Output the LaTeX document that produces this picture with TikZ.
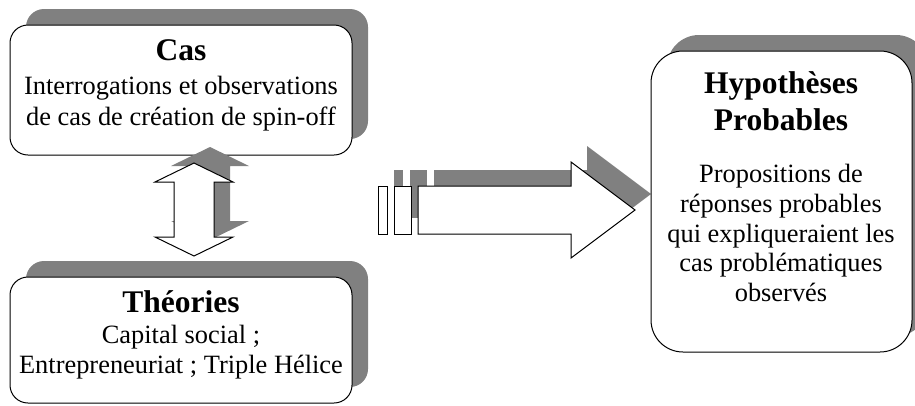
\documentclass[tikz,border=0pt]{standalone}
\usepackage{fontspec}
\setmainfont{Liberation Serif}
\usetikzlibrary{shadows}
\definecolor{shadowgray}{RGB}{128,128,128}
\begin{document}
\begin{tikzpicture}[x=1pt,y=-1pt,
  box/.style={draw=black, line width=1pt, fill=white, rounded corners=#1,
    inner sep=0pt, outer sep=0pt,
    drop shadow={shadow xshift=16pt, shadow yshift=16pt, fill=shadowgray, opacity=1}},
  box/.default=18pt,
  head/.style={font=\fontsize{31.5}{36}\selectfont\bfseries, anchor=base, inner sep=0pt},
  body/.style={font=\fontsize{26.4}{30}\selectfont, anchor=base, inner sep=0pt},
  shadowfill/.style={fill=shadowgray, draw=none},
  arrowfill/.style={fill=white, draw=black, line width=1pt, line join=miter},
  dblarrow/.pic={
    \path[pic actions] (0,-46.5) -- (39,-27.5) -- (20,-27.5) -- (20,27.5) -- (39,27.5)
      -- (0,46.5) -- (-39,27.5) -- (-20,27.5) -- (-20,-27.5) -- (-39,-27.5) -- cycle;
  },
  bigarrow/.pic={
    \path[pic actions] (-40,-24) rectangle (-31,24);
    \path[pic actions] (-24,-24) rectangle (-7,24);
    \path[pic actions] (0,-24) -- (153,-24) -- (153,-48) -- (217,0) -- (153,48)
      -- (153,24) -- (0,24) -- cycle;
  }
]
\useasboundingbox (0,0) rectangle (915,405);

% Cas box
\node[box, minimum width=342pt, minimum height=130pt] (cas) at (181,90) {};
\node[head] (casT) at (181,60) {Cas};
\node[body] (casL1) at (181,94) {Interrogations et observations};
\node[body] (casL2) at (181,125) {de cas de création de spin-off};

% Theories box
\node[box, minimum width=342pt, minimum height=126pt] (theo) at (181,340) {};
\node[head] (theoT) at (181,312) {Théories};
\node[body] (theoL1) at (181,343) {Capital social ;};
\node[body] (theoL2) at (181,373) {Entrepreneuriat ; Triple Hélice};

% double arrow between Cas and Theories
\pic[shadowfill] (dblS) at (210,193.5) {dblarrow};
\pic[arrowfill] (dbl) at (194,209.5) {dblarrow};

% big arrow towards hypotheses
\pic[shadowfill] (bigS) at (434,194) {bigarrow};
\pic[arrowfill] (big) at (418,210) {bigarrow};

% Hypotheses box
\node[box=32pt, minimum width=261pt, minimum height=301pt] (hyp) at (781.5,201.5) {};
\node[head] (hypT1) at (781,93) {Hypothèses};
\node[head] (hypT2) at (781,130) {Probables};
\node[body] (hypL1) at (781,182) {Propositions de};
\node[body] (hypL2) at (781,212) {réponses probables};
\node[body] (hypL3) at (781,242) {qui expliqueraient les};
\node[body] (hypL4) at (781,271) {cas problématiques};
\node[body] (hypL5) at (781,301) {observés};
\end{tikzpicture}
\end{document}
